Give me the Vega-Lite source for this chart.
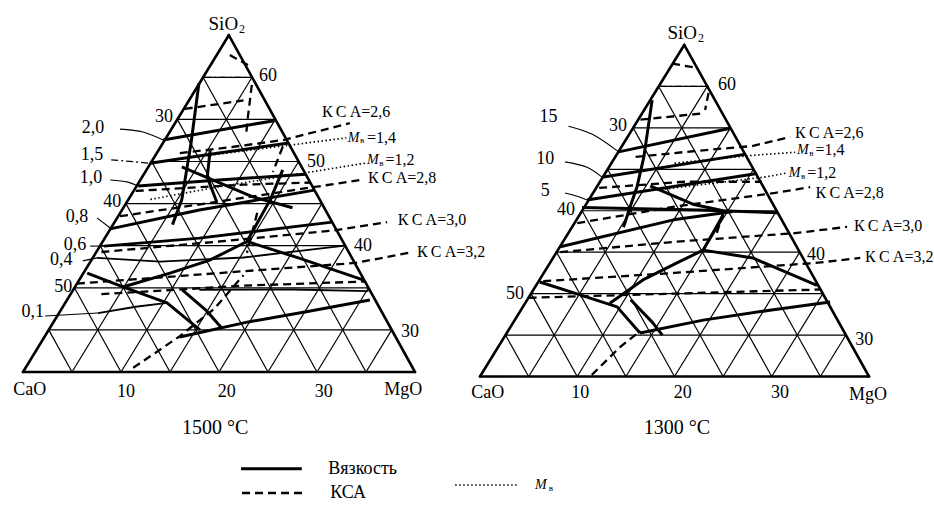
{
"$schema":"https://vega.github.io/schema/vega-lite/v6.json",
"width":934,"height":506,"autosize":{"type":"none"},"padding":0,
"config":{"view":{"stroke":null},"font":"Liberation Serif","text":{"font":"Liberation Serif","color":"black"},"line":{"color":"black"},"rule":{"color":"black"}},
"datasets":{
"grid":[
{"k":"e","x":0,"y":0,"x2":8,"y2":0},{"k":"e","x":0,"y":0,"x2":4.2,"y2":8},{"k":"e","x":8,"y":0,"x2":4.2,"y2":8},
{"k":"g","x":0.525,"y":1,"x2":7.525,"y2":1},{"k":"g","x":1.05,"y":2,"x2":7.05,"y2":2},{"k":"g","x":1.575,"y":3,"x2":6.575,"y2":3},{"k":"g","x":2.1,"y":4,"x2":6.1,"y2":4},{"k":"g","x":2.625,"y":5,"x2":5.625,"y2":5},{"k":"g","x":3.15,"y":6,"x2":5.15,"y2":6},{"k":"g","x":3.675,"y":7,"x2":4.675,"y2":7},
{"k":"g","x":1,"y":0,"x2":4.675,"y2":7},{"k":"g","x":2,"y":0,"x2":5.15,"y2":6},{"k":"g","x":3,"y":0,"x2":5.625,"y2":5},{"k":"g","x":4,"y":0,"x2":6.1,"y2":4},{"k":"g","x":5,"y":0,"x2":6.575,"y2":3},{"k":"g","x":6,"y":0,"x2":7.05,"y2":2},{"k":"g","x":7,"y":0,"x2":7.525,"y2":1},
{"k":"g","x":1,"y":0,"x2":0.525,"y2":1},{"k":"g","x":2,"y":0,"x2":1.05,"y2":2},{"k":"g","x":3,"y":0,"x2":1.575,"y2":3},{"k":"g","x":4,"y":0,"x2":2.1,"y2":4},{"k":"g","x":5,"y":0,"x2":2.625,"y2":5},{"k":"g","x":6,"y":0,"x2":3.15,"y2":6},{"k":"g","x":7,"y":0,"x2":3.675,"y2":7}
],
"L":[
{"id":"s1","t":"s","o":1,"x":2.86,"y":5.51},{"id":"s1","t":"s","o":2,"x":5.12,"y":5.97},
{"id":"s2","t":"s","o":1,"x":2.59,"y":4.96},{"id":"s2","t":"s","o":2,"x":4.0,"y":5.2},{"id":"s2","t":"s","o":3,"x":5.42,"y":5.44},
{"id":"s3","t":"s","o":1,"x":2.35,"y":4.42},{"id":"s3","t":"s","o":2,"x":4.0,"y":4.56},{"id":"s3","t":"s","o":3,"x":5.77,"y":4.7},
{"id":"s4","t":"s","o":1,"x":1.78,"y":3.4},{"id":"s4","t":"s","o":2,"x":3.6,"y":3.85},{"id":"s4","t":"s","o":3,"x":5.95,"y":4.32},
{"id":"s5","t":"s","o":1,"x":1.65,"y":2.99},{"id":"s5","t":"s","o":2,"x":3.6,"y":3.18},{"id":"s5","t":"s","o":3,"x":6.31,"y":3.56},
{"id":"s6","t":"m","o":1,"x":1.51,"y":2.71},{"id":"s6","t":"m","o":2,"x":2.8,"y":2.62},{"id":"s6","t":"m","o":3,"x":4.5,"y":2.72},{"id":"s6","t":"m","o":4,"x":6.57,"y":3.0},
{"id":"s7","t":"m","o":1,"x":1.53,"y":1.4},{"id":"s7","t":"m","o":2,"x":2.3,"y":1.55},{"id":"s7","t":"m","o":3,"x":2.94,"y":1.64},
{"id":"s8","t":"s","o":1,"x":1.31,"y":2.35},{"id":"s8","t":"s","o":2,"x":2.04,"y":2.02},{"id":"s8","t":"s","o":3,"x":2.94,"y":1.64},{"id":"s8","t":"s","o":4,"x":3.61,"y":1.0},
{"id":"s9","t":"s","o":1,"x":2.04,"y":2.02},{"id":"s9","t":"s","o":2,"x":3.0,"y":2.35},{"id":"s9","t":"s","o":3,"x":3.8,"y":2.65},{"id":"s9","t":"s","o":4,"x":4.57,"y":3.1},{"id":"s9","t":"s","o":5,"x":5.05,"y":4.1},{"id":"s9","t":"s","o":6,"x":5.3,"y":4.8},
{"id":"s10","t":"s","o":1,"x":4.57,"y":3.1},{"id":"s10","t":"s","o":2,"x":5.65,"y":2.7},{"id":"s10","t":"s","o":3,"x":6.94,"y":2.19},
{"id":"s11","t":"s","o":1,"x":3.2,"y":0.83},{"id":"s11","t":"s","o":2,"x":4.6,"y":1.19},{"id":"s11","t":"s","o":3,"x":5.78,"y":1.43},{"id":"s11","t":"s","o":4,"x":7.08,"y":1.71},
{"id":"s12","t":"s","o":1,"x":3.25,"y":1.95},{"id":"s12","t":"s","o":2,"x":3.75,"y":1.45},{"id":"s12","t":"s","o":3,"x":4.05,"y":1.05},
{"id":"s13","t":"s","o":1,"x":3.59,"y":6.86},{"id":"s13","t":"s","o":2,"x":3.43,"y":5.44},{"id":"s13","t":"s","o":3,"x":3.24,"y":4.09},{"id":"s13","t":"s","o":4,"x":3.05,"y":3.5},
{"id":"s14","t":"s","o":1,"x":3.82,"y":5.27},{"id":"s14","t":"s","o":2,"x":3.76,"y":4.63},{"id":"s14","t":"s","o":3,"x":3.95,"y":4.05},
{"id":"s15","t":"s","o":1,"x":3.24,"y":4.87},{"id":"s15","t":"s","o":2,"x":4.69,"y":4.16},{"id":"s15","t":"s","o":3,"x":5.5,"y":3.9},
{"id":"s16","t":"m","o":1,"x":3.6,"y":1.95},{"id":"s16","t":"m","o":2,"x":5.5,"y":1.96},{"id":"s16","t":"m","o":3,"x":7.05,"y":1.92},
{"id":"l1","t":"t","o":1,"x":1.98,"y":5.77},{"id":"l1","t":"t","o":2,"x":2.45,"y":5.7},{"id":"l1","t":"t","o":3,"x":2.86,"y":5.51},
{"id":"l2","t":"dd","o":1,"x":1.8,"y":5.04},{"id":"l2","t":"dd","o":2,"x":2.59,"y":4.96},
{"id":"l3","t":"t","o":1,"x":1.78,"y":4.56},{"id":"l3","t":"t","o":2,"x":2.14,"y":4.51},{"id":"l3","t":"t","o":3,"x":2.35,"y":4.42},
{"id":"l4","t":"t","o":1,"x":1.51,"y":3.66},{"id":"l4","t":"t","o":2,"x":1.78,"y":3.42},
{"id":"l5","t":"t","o":1,"x":1.37,"y":2.99},{"id":"l5","t":"t","o":2,"x":1.65,"y":2.99},
{"id":"l6","t":"t","o":1,"x":1.22,"y":2.64},{"id":"l6","t":"t","o":2,"x":1.51,"y":2.71},
{"id":"l7","t":"t","o":1,"x":0.45,"y":1.33},{"id":"l7","t":"t","o":2,"x":1.53,"y":1.4},
{"id":"k1","t":"d","o":1,"x":3.2,"y":5.2},{"id":"k1","t":"d","o":2,"x":4.3,"y":5.35},{"id":"k1","t":"d","o":3,"x":5.31,"y":5.51},{"id":"k1","t":"d","o":4,"x":6.67,"y":5.91},
{"id":"k2","t":"d","o":1,"x":1.98,"y":3.7},{"id":"k2","t":"d","o":2,"x":4.0,"y":4.05},{"id":"k2","t":"d","o":3,"x":5.92,"y":4.39},{"id":"k2","t":"d","o":4,"x":6.88,"y":4.56},
{"id":"k3","t":"d","o":1,"x":1.6,"y":2.85},{"id":"k3","t":"d","o":2,"x":4.0,"y":3.1},{"id":"k3","t":"d","o":3,"x":6.39,"y":3.37},{"id":"k3","t":"d","o":4,"x":7.43,"y":3.56},
{"id":"k4","t":"d","o":1,"x":1.1,"y":2.1},{"id":"k4","t":"d","o":2,"x":4.0,"y":2.35},{"id":"k4","t":"d","o":3,"x":6.78,"y":2.59},{"id":"k4","t":"d","o":4,"x":7.96,"y":2.85},
{"id":"k5","t":"d","o":1,"x":3.3,"y":6.25},{"id":"k5","t":"d","o":2,"x":4.5,"y":6.45},
{"id":"k6","t":"d","o":1,"x":2.3,"y":4.3},{"id":"k6","t":"d","o":2,"x":4.5,"y":4.45},{"id":"k6","t":"d","o":3,"x":5.86,"y":4.5},
{"id":"k7","t":"d","o":1,"x":1.6,"y":1.85},{"id":"k7","t":"d","o":2,"x":4.5,"y":2.05},{"id":"k7","t":"d","o":3,"x":6.98,"y":2.15},
{"id":"k8","t":"d","o":1,"x":4.67,"y":6.82},{"id":"k8","t":"d","o":2,"x":4.59,"y":6.06},{"id":"k8","t":"d","o":3,"x":4.55,"y":5.6},
{"id":"k9","t":"d","o":1,"x":5.3,"y":5.35},{"id":"k9","t":"d","o":2,"x":5.1,"y":4.75},
{"id":"k10","t":"d","o":1,"x":4.22,"y":7.53},{"id":"k10","t":"d","o":2,"x":4.59,"y":7.29},
{"id":"k12","t":"d","o":1,"x":2.25,"y":0.1},{"id":"k12","t":"d","o":2,"x":3.2,"y":0.85},{"id":"k12","t":"d","o":3,"x":3.9,"y":1.5},{"id":"k12","t":"d","o":4,"x":4.5,"y":2.3},
{"id":"k13","t":"d","o":1,"x":4.78,"y":3.78},{"id":"k13","t":"d","o":2,"x":4.57,"y":2.83},
{"id":"k14","t":"dd","o":1,"x":3.7,"y":7.0},{"id":"k14","t":"dd","o":2,"x":4.65,"y":7.0},
{"id":"m1","t":"p","o":1,"x":3.5,"y":5.1},{"id":"m1","t":"p","o":2,"x":4.5,"y":5.25},{"id":"m1","t":"p","o":3,"x":5.45,"y":5.39},{"id":"m1","t":"p","o":4,"x":6.6,"y":5.56},
{"id":"m2","t":"p","o":1,"x":2.6,"y":4.1},{"id":"m2","t":"p","o":2,"x":4.0,"y":4.4},{"id":"m2","t":"p","o":3,"x":5.76,"y":4.73},{"id":"m2","t":"p","o":4,"x":6.98,"y":4.96},
{"id":"g1","t":"s","o":1,"x":4.45,"y":-2.3},{"id":"g1","t":"s","o":2,"x":5.69,"y":-2.3},
{"id":"g2","t":"d","o":1,"x":4.47,"y":-2.874},{"id":"g2","t":"d","o":2,"x":5.71,"y":-2.874},
{"id":"g3","t":"p","o":1,"x":8.82,"y":-2.684},{"id":"g3","t":"p","o":2,"x":10.1,"y":-2.684}
],
"R":[
{"id":"s1","t":"s","o":1,"x":2.85,"y":5.42},{"id":"s1","t":"s","o":2,"x":5.15,"y":5.99},
{"id":"l1","t":"t","o":1,"x":1.82,"y":6.04},{"id":"l1","t":"t","o":2,"x":2.3,"y":5.85},{"id":"l1","t":"t","o":3,"x":2.85,"y":5.42},
{"id":"s2","t":"s","o":1,"x":2.51,"y":4.81},{"id":"s2","t":"s","o":2,"x":5.44,"y":5.36},
{"id":"l2","t":"t","o":1,"x":1.75,"y":5.18},{"id":"l2","t":"t","o":2,"x":2.2,"y":5.05},{"id":"l2","t":"t","o":3,"x":2.51,"y":4.81},
{"id":"s3","t":"s","o":1,"x":2.2,"y":4.26},{"id":"s3","t":"s","o":2,"x":5.7,"y":4.9},
{"id":"l3","t":"t","o":1,"x":1.75,"y":4.43},{"id":"l3","t":"t","o":2,"x":2.0,"y":4.35},{"id":"l3","t":"t","o":3,"x":2.2,"y":4.26},
{"id":"s4","t":"s","o":1,"x":2.1,"y":4.08},{"id":"s4","t":"s","o":2,"x":4.5,"y":4.02},{"id":"s4","t":"s","o":3,"x":6.12,"y":3.95},
{"id":"s5","t":"s","o":1,"x":1.65,"y":3.13},{"id":"s5","t":"s","o":2,"x":3.98,"y":3.78},{"id":"s5","t":"s","o":3,"x":5.2,"y":3.98},
{"id":"s6","t":"s","o":1,"x":3.54,"y":6.67},{"id":"s6","t":"s","o":2,"x":3.37,"y":5.3},{"id":"s6","t":"s","o":3,"x":3.23,"y":4.58},{"id":"s6","t":"s","o":4,"x":3.09,"y":4.1},{"id":"s6","t":"s","o":5,"x":2.95,"y":3.6},
{"id":"s7","t":"s","o":1,"x":1.23,"y":2.28},{"id":"s7","t":"s","o":2,"x":2.06,"y":1.97},{"id":"s7","t":"s","o":3,"x":2.82,"y":1.68},{"id":"s7","t":"s","o":4,"x":3.29,"y":1.05},
{"id":"s7b","t":"s","o":1,"x":3.1,"y":1.85},{"id":"s7b","t":"s","o":2,"x":3.55,"y":1.3},{"id":"s7b","t":"s","o":3,"x":3.75,"y":1.0},
{"id":"s8","t":"s","o":1,"x":3.29,"y":1.05},{"id":"s8","t":"s","o":2,"x":4.59,"y":1.36},{"id":"s8","t":"s","o":3,"x":5.96,"y":1.6},{"id":"s8","t":"s","o":4,"x":7.2,"y":1.8},
{"id":"s9","t":"s","o":1,"x":2.67,"y":1.77},{"id":"s9","t":"s","o":2,"x":3.35,"y":2.33},{"id":"s9","t":"s","o":3,"x":4.05,"y":2.74},{"id":"s9","t":"s","o":4,"x":4.59,"y":3.05},{"id":"s9","t":"s","o":5,"x":4.79,"y":3.46},{"id":"s9","t":"s","o":6,"x":5.0,"y":3.9},
{"id":"s10","t":"s","o":1,"x":4.59,"y":3.05},{"id":"s10","t":"s","o":2,"x":5.61,"y":2.86},{"id":"s10","t":"s","o":3,"x":6.93,"y":2.2},
{"id":"s11","t":"s","o":1,"x":3.5,"y":4.6},{"id":"s11","t":"s","o":2,"x":4.4,"y":4.15},{"id":"s11","t":"s","o":3,"x":5.0,"y":4.0},
{"id":"k1","t":"d","o":1,"x":3.2,"y":5.3},{"id":"k1","t":"d","o":2,"x":4.5,"y":5.45},{"id":"k1","t":"d","o":3,"x":5.59,"y":5.56},{"id":"k1","t":"d","o":4,"x":6.38,"y":5.78},
{"id":"k2","t":"d","o":1,"x":2.0,"y":3.7},{"id":"k2","t":"d","o":2,"x":4.0,"y":4.1},{"id":"k2","t":"d","o":3,"x":6.07,"y":4.43},{"id":"k2","t":"d","o":4,"x":6.79,"y":4.57},
{"id":"k3","t":"d","o":1,"x":1.65,"y":3.0},{"id":"k3","t":"d","o":2,"x":4.0,"y":3.25},{"id":"k3","t":"d","o":3,"x":6.48,"y":3.46},{"id":"k3","t":"d","o":4,"x":7.55,"y":3.61},
{"id":"k4","t":"d","o":1,"x":1.3,"y":2.3},{"id":"k4","t":"d","o":2,"x":4.0,"y":2.5},{"id":"k4","t":"d","o":3,"x":6.9,"y":2.74},{"id":"k4","t":"d","o":4,"x":7.82,"y":2.86},
{"id":"k5","t":"d","o":1,"x":3.3,"y":6.2},{"id":"k5","t":"d","o":2,"x":4.6,"y":6.35},
{"id":"k6","t":"d","o":1,"x":2.45,"y":4.55},{"id":"k6","t":"d","o":2,"x":4.2,"y":4.7},{"id":"k6","t":"d","o":3,"x":5.8,"y":4.7},
{"id":"k7","t":"d","o":1,"x":1.0,"y":1.9},{"id":"k7","t":"d","o":2,"x":4.0,"y":2.0},{"id":"k7","t":"d","o":3,"x":7.0,"y":2.1},
{"id":"k8","t":"d","o":1,"x":4.7,"y":6.84},{"id":"k8","t":"d","o":2,"x":4.63,"y":6.43},
{"id":"k9","t":"d","o":1,"x":3.95,"y":7.55},{"id":"k9","t":"d","o":2,"x":4.45,"y":7.45},
{"id":"k10","t":"d","o":1,"x":2.3,"y":0.04},{"id":"k10","t":"d","o":2,"x":2.88,"y":0.71},{"id":"k10","t":"d","o":3,"x":3.3,"y":1.1},
{"id":"k11","t":"d","o":1,"x":5.0,"y":3.95},{"id":"k11","t":"d","o":2,"x":4.87,"y":3.46},
{"id":"k12","t":"dd","o":1,"x":3.7,"y":7.0},{"id":"k12","t":"dd","o":2,"x":4.7,"y":7.0},
{"id":"m1","t":"p","o":1,"x":4.0,"y":5.15},{"id":"m1","t":"p","o":2,"x":5.64,"y":5.34},{"id":"m1","t":"p","o":3,"x":6.48,"y":5.41},
{"id":"m2","t":"p","o":1,"x":3.64,"y":4.5},{"id":"m2","t":"p","o":2,"x":5.84,"y":4.81},{"id":"m2","t":"p","o":3,"x":6.31,"y":4.91}
],
"LT":[
{"k":"sio","x":4.39,"y":8.27,"text":"SiO"},{"k":"two","x":4.41,"y":8.15,"text":"2"},
{"k":"tick","x":5.0,"y":7.03,"text":"60"},{"k":"tick","x":2.88,"y":6.06,"text":"30"},{"k":"tick","x":1.82,"y":4.04,"text":"40"},{"k":"tick","x":0.82,"y":2.02,"text":"50"},
{"k":"tick","x":5.98,"y":4.99,"text":"50"},{"k":"tick","x":6.94,"y":2.99,"text":"40"},{"k":"tick","x":7.9,"y":0.95,"text":"30"},
{"k":"tick","x":0.14,"y":-0.43,"text":"CaO"},{"k":"tick","x":2.1,"y":-0.475,"text":"10"},{"k":"tick","x":4.16,"y":-0.475,"text":"20"},{"k":"tick","x":6.14,"y":-0.475,"text":"30"},{"k":"tick","x":7.76,"y":-0.43,"text":"MgO"},
{"k":"tick","x":1.43,"y":5.8,"text":"2,0"},{"k":"tick","x":1.41,"y":5.15,"text":"1,5"},{"k":"tick","x":1.39,"y":4.61,"text":"1,0"},{"k":"tick","x":1.1,"y":3.68,"text":"0,8"},{"k":"tick","x":1.06,"y":3.02,"text":"0,6"},{"k":"tick","x":0.78,"y":2.66,"text":"0,4"},{"k":"tick","x":0.2,"y":1.43,"text":"0,1"},
{"k":"title","x":3.92,"y":-1.33,"text":"1500 °C"},
{"k":"ksa","x":6.1,"y":6.18,"text":"К\u2009С\u2009А=2,6"},{"k":"ksa","x":7.04,"y":4.61,"text":"К\u2009С\u2009А=2,8"},{"k":"ksa","x":7.65,"y":3.61,"text":"К\u2009С\u2009А=3,0"},{"k":"ksa","x":8.04,"y":2.85,"text":"К\u2009С\u2009А=3,2"},
{"k":"mi","x":6.63,"y":5.57,"text":"M"},{"k":"sub","x":6.88,"y":5.5,"text":"в"},{"k":"ksa","x":7.02,"y":5.57,"text":"=1,4"},
{"k":"mi","x":7.02,"y":5.04,"text":"M"},{"k":"sub","x":7.27,"y":4.96,"text":"в"},{"k":"ksa","x":7.4,"y":5.04,"text":"=1,2"},
{"k":"leg","x":6.23,"y":-2.31,"text":"Вязкость"},{"k":"leg","x":6.27,"y":-2.87,"text":"КСА"},
{"k":"mi","x":10.45,"y":-2.684,"text":"M"},{"k":"sub","x":10.73,"y":-2.755,"text":"в"}
],
"RT":[
{"k":"sio","x":4.463,"y":8.28,"text":"SiO"},{"k":"two","x":4.483,"y":8.17,"text":"2"},
{"k":"tick","x":5.08,"y":7.03,"text":"60"},{"k":"tick","x":2.84,"y":6.04,"text":"30"},{"k":"tick","x":1.77,"y":4.02,"text":"40"},{"k":"tick","x":0.72,"y":1.99,"text":"50"},
{"k":"tick","x":6.91,"y":2.93,"text":"40"},{"k":"tick","x":7.9,"y":0.88,"text":"30"},
{"k":"tick","x":0.16,"y":-0.4,"text":"CaO"},{"k":"tick","x":2.06,"y":-0.4,"text":"10"},{"k":"tick","x":4.17,"y":-0.4,"text":"20"},{"k":"tick","x":6.17,"y":-0.4,"text":"30"},{"k":"tick","x":7.98,"y":-0.45,"text":"MgO"},
{"k":"tick","x":1.41,"y":6.27,"text":"15"},{"k":"tick","x":1.34,"y":5.25,"text":"10"},{"k":"tick","x":1.34,"y":4.47,"text":"5"},
{"k":"title","x":4.05,"y":-1.24,"text":"1300 °C"},
{"k":"ksa","x":6.48,"y":5.88,"text":"К\u2009С\u2009А=2,6"},{"k":"ksa","x":6.9,"y":4.44,"text":"К\u2009С\u2009А=2,8"},{"k":"ksa","x":7.69,"y":3.63,"text":"К\u2009С\u2009А=3,0"},{"k":"ksa","x":7.92,"y":2.88,"text":"К\u2009С\u2009А=3,2"},
{"k":"mi","x":6.52,"y":5.46,"text":"M"},{"k":"sub","x":6.77,"y":5.39,"text":"в"},{"k":"ksa","x":6.9,"y":5.46,"text":"=1,4"},
{"k":"mi","x":6.35,"y":4.9,"text":"M"},{"k":"sub","x":6.6,"y":4.83,"text":"в"},{"k":"ksa","x":6.73,"y":4.9,"text":"=1,2"}
]
},
"resolve":{"scale":{"x":"independent","y":"independent"}},
"layer":[
{
"encoding":{
"x":{"field":"x","type":"quantitative","scale":{"domain":[-0.4694,18.5918],"nice":false,"zero":false},"axis":null},
"y":{"field":"y","type":"quantitative","scale":{"domain":[-3.1829,8.8361],"nice":false,"zero":false},"axis":null}
},
"layer":[
{"data":{"name":"grid"},"transform":[{"filter":"datum.k=='g'"}],"mark":{"type":"rule","strokeWidth":1.2},"encoding":{"x2":{"field":"x2"},"y2":{"field":"y2"}}},
{"data":{"name":"grid"},"transform":[{"filter":"datum.k=='e'"}],"mark":{"type":"rule","strokeWidth":2.6,"strokeCap":"round"},"encoding":{"x2":{"field":"x2"},"y2":{"field":"y2"}}},
{"data":{"name":"L"},"transform":[{"filter":"datum.t=='s'"}],"mark":{"type":"line","strokeWidth":3,"strokeJoin":"round"},"encoding":{"detail":{"field":"id"},"order":{"field":"o","type":"quantitative"}}},
{"data":{"name":"L"},"transform":[{"filter":"datum.t=='m'"}],"mark":{"type":"line","strokeWidth":1.8},"encoding":{"detail":{"field":"id"},"order":{"field":"o","type":"quantitative"}}},
{"data":{"name":"L"},"transform":[{"filter":"datum.t=='t'"}],"mark":{"type":"line","strokeWidth":1.1,"interpolate":"catmull-rom"},"encoding":{"detail":{"field":"id"},"order":{"field":"o","type":"quantitative"}}},
{"data":{"name":"L"},"transform":[{"filter":"datum.t=='dd'"}],"mark":{"type":"line","strokeWidth":1.3,"strokeDash":[7,3,2,3]},"encoding":{"detail":{"field":"id"},"order":{"field":"o","type":"quantitative"}}},
{"data":{"name":"L"},"transform":[{"filter":"datum.t=='d'"}],"mark":{"type":"line","strokeWidth":2.3,"strokeDash":[8,5]},"encoding":{"detail":{"field":"id"},"order":{"field":"o","type":"quantitative"}}},
{"data":{"name":"L"},"transform":[{"filter":"datum.t=='p'"}],"mark":{"type":"line","strokeWidth":1.6,"strokeDash":[1.5,2.5]},"encoding":{"detail":{"field":"id"},"order":{"field":"o","type":"quantitative"}}},
{"data":{"name":"LT"},"transform":[{"filter":"datum.k=='tick'"}],"mark":{"type":"text","font":"Liberation Serif","fontSize":18,"align":"center","baseline":"middle"},"encoding":{"text":{"field":"text"}}},
{"data":{"name":"LT"},"transform":[{"filter":"datum.k=='sio'"}],"mark":{"type":"text","font":"Liberation Serif","fontSize":19,"align":"right","baseline":"middle"},"encoding":{"text":{"field":"text"}}},
{"data":{"name":"LT"},"transform":[{"filter":"datum.k=='two'"}],"mark":{"type":"text","font":"Liberation Serif","fontSize":12,"align":"left","baseline":"middle"},"encoding":{"text":{"field":"text"}}},
{"data":{"name":"LT"},"transform":[{"filter":"datum.k=='title'"}],"mark":{"type":"text","font":"Liberation Serif","fontSize":20,"align":"center","baseline":"middle"},"encoding":{"text":{"field":"text"}}},
{"data":{"name":"LT"},"transform":[{"filter":"datum.k=='ksa'"}],"mark":{"type":"text","font":"Liberation Serif","fontSize":16,"align":"left","baseline":"middle"},"encoding":{"text":{"field":"text"}}},
{"data":{"name":"LT"},"transform":[{"filter":"datum.k=='mi'"}],"mark":{"type":"text","font":"Liberation Serif","fontSize":14,"fontStyle":"italic","align":"left","baseline":"middle"},"encoding":{"text":{"field":"text"}}},
{"data":{"name":"LT"},"transform":[{"filter":"datum.k=='sub'"}],"mark":{"type":"text","font":"Liberation Serif","fontSize":9,"align":"left","baseline":"middle"},"encoding":{"text":{"field":"text"}}},
{"data":{"name":"LT"},"transform":[{"filter":"datum.k=='leg'"}],"mark":{"type":"text","font":"Liberation Serif","fontSize":18,"align":"left","baseline":"middle"},"encoding":{"text":{"field":"text"}}}
]
},
{
"encoding":{
"x":{"field":"x","type":"quantitative","scale":{"domain":[-9.8715,9.3368],"nice":false,"zero":false},"axis":null},
"y":{"field":"y","type":"quantitative","scale":{"domain":[-3.125,9.0854],"nice":false,"zero":false},"axis":null}
},
"layer":[
{"data":{"name":"grid"},"transform":[{"filter":"datum.k=='g'"}],"mark":{"type":"rule","strokeWidth":1.2},"encoding":{"x2":{"field":"x2"},"y2":{"field":"y2"}}},
{"data":{"name":"grid"},"transform":[{"filter":"datum.k=='e'"}],"mark":{"type":"rule","strokeWidth":2.6,"strokeCap":"round"},"encoding":{"x2":{"field":"x2"},"y2":{"field":"y2"}}},
{"data":{"name":"R"},"transform":[{"filter":"datum.t=='s'"}],"mark":{"type":"line","strokeWidth":3,"strokeJoin":"round"},"encoding":{"detail":{"field":"id"},"order":{"field":"o","type":"quantitative"}}},
{"data":{"name":"R"},"transform":[{"filter":"datum.t=='t'"}],"mark":{"type":"line","strokeWidth":1.1,"interpolate":"catmull-rom"},"encoding":{"detail":{"field":"id"},"order":{"field":"o","type":"quantitative"}}},
{"data":{"name":"R"},"transform":[{"filter":"datum.t=='dd'"}],"mark":{"type":"line","strokeWidth":1.3,"strokeDash":[7,3,2,3]},"encoding":{"detail":{"field":"id"},"order":{"field":"o","type":"quantitative"}}},
{"data":{"name":"R"},"transform":[{"filter":"datum.t=='d'"}],"mark":{"type":"line","strokeWidth":2.3,"strokeDash":[8,5]},"encoding":{"detail":{"field":"id"},"order":{"field":"o","type":"quantitative"}}},
{"data":{"name":"R"},"transform":[{"filter":"datum.t=='p'"}],"mark":{"type":"line","strokeWidth":1.6,"strokeDash":[1.5,2.5]},"encoding":{"detail":{"field":"id"},"order":{"field":"o","type":"quantitative"}}},
{"data":{"name":"RT"},"transform":[{"filter":"datum.k=='tick'"}],"mark":{"type":"text","font":"Liberation Serif","fontSize":18,"align":"center","baseline":"middle"},"encoding":{"text":{"field":"text"}}},
{"data":{"name":"RT"},"transform":[{"filter":"datum.k=='sio'"}],"mark":{"type":"text","font":"Liberation Serif","fontSize":19,"align":"right","baseline":"middle"},"encoding":{"text":{"field":"text"}}},
{"data":{"name":"RT"},"transform":[{"filter":"datum.k=='two'"}],"mark":{"type":"text","font":"Liberation Serif","fontSize":12,"align":"left","baseline":"middle"},"encoding":{"text":{"field":"text"}}},
{"data":{"name":"RT"},"transform":[{"filter":"datum.k=='title'"}],"mark":{"type":"text","font":"Liberation Serif","fontSize":20,"align":"center","baseline":"middle"},"encoding":{"text":{"field":"text"}}},
{"data":{"name":"RT"},"transform":[{"filter":"datum.k=='ksa'"}],"mark":{"type":"text","font":"Liberation Serif","fontSize":16,"align":"left","baseline":"middle"},"encoding":{"text":{"field":"text"}}},
{"data":{"name":"RT"},"transform":[{"filter":"datum.k=='mi'"}],"mark":{"type":"text","font":"Liberation Serif","fontSize":14,"fontStyle":"italic","align":"left","baseline":"middle"},"encoding":{"text":{"field":"text"}}},
{"data":{"name":"RT"},"transform":[{"filter":"datum.k=='sub'"}],"mark":{"type":"text","font":"Liberation Serif","fontSize":9,"align":"left","baseline":"middle"},"encoding":{"text":{"field":"text"}}}
]
}
]
}
